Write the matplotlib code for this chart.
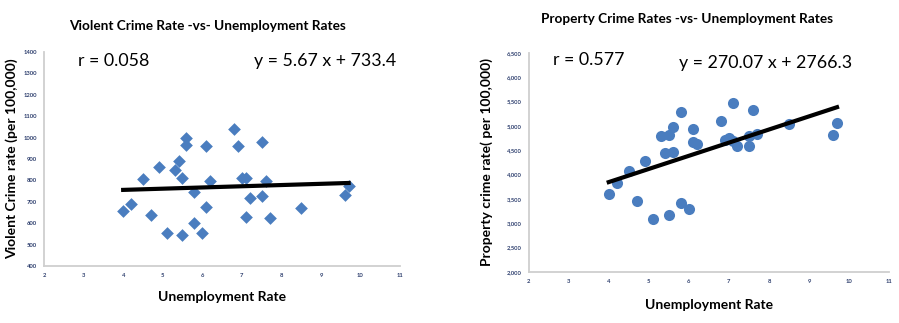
import matplotlib
matplotlib.use("Agg")
import matplotlib.pyplot as plt
from matplotlib.ticker import FuncFormatter

# unemployment rate (same states for both panels)
unemp_v = [4.0, 4.2, 4.5, 4.7, 4.9, 5.1, 5.3, 5.4, 5.5, 5.5, 5.6, 5.6, 5.8, 5.8, 6.0, 6.1,
           6.1, 6.2, 6.8, 6.9, 7.0, 7.1, 7.1, 7.2, 7.5, 7.5, 7.6, 7.7, 8.5, 9.6, 9.7]
violent = [656, 692, 809, 637, 864, 553, 847, 891, 812, 545, 998, 966, 744, 602, 556, 962,
           678, 798, 1042, 961, 812, 812, 630, 716, 978, 727, 797, 627, 670, 730, 775]

unemp_p = [4.0, 4.2, 4.5, 4.7, 4.9, 5.1, 5.3, 5.4, 5.5, 5.5, 5.6, 5.6, 5.8, 5.8, 6.0, 6.1,
           6.1, 6.2, 6.8, 6.9, 7.0, 7.1, 7.1, 7.2, 7.5, 7.5, 7.6, 7.7, 8.5, 9.6, 9.7]
property_ = [3596, 3820, 4065, 3462, 4288, 3082, 4798, 4439, 4808, 3178, 4970, 4470, 5292, 3420,
             3295, 4945, 4671, 4626, 5100, 4712, 4760, 5462, 4690, 4595, 4595, 4787, 5326, 4832,
             5035, 4815, 5068]

# trend lines as printed on the chart
v_slope, v_icpt, v_r = 5.67, 733.4, 0.058
p_slope, p_icpt, p_r = 270.07, 2766.3, 0.577

blue = "#4a7dbf"
tick_col = "#2e3f6e"
spine_col = "#cfcfcf"
font = "Lato"

fig = plt.figure(figsize=(8.99, 3.23), dpi=100)
ax1 = fig.add_axes([0.049, 0.176, 0.396, 0.663])
ax2 = fig.add_axes([0.588, 0.158, 0.401, 0.678])


def style(ax):
    for s in ["top", "right"]:
        ax.spines[s].set_visible(False)
    for s in ["left", "bottom"]:
        ax.spines[s].set_color(spine_col)
        ax.spines[s].set_linewidth(1.3)
    ax.tick_params(length=0, labelsize=4.2, colors=tick_col, pad=5)
    for lab in ax.get_xticklabels() + ax.get_yticklabels():
        lab.set_family(font)
        lab.set_fontweight("bold")


# left: violent crime
ax1.scatter(unemp_v, violent, marker="D", s=42, color=blue, linewidths=0, zorder=2)
xs = [min(unemp_v), max(unemp_v)]
ax1.plot(xs, [v_slope * x + v_icpt for x in xs], color="black", lw=3, zorder=3)
ax1.set_xlim(2, 11)
ax1.set_ylim(400, 1400)
ax1.set_xticks(range(2, 12))
ax1.set_yticks(range(400, 1401, 100))
style(ax1)
ax1.text(0.095, 0.958, "r = %.3f" % v_r, transform=ax1.transAxes, fontsize=12.8,
         family=font, va="center", ha="left")
ax1.text(0.99, 0.958, "y = %.2f x + %.1f" % (v_slope, v_icpt), transform=ax1.transAxes,
         fontsize=12.8, family=font, va="center", ha="right")
ax1.set_xlabel("Unemployment Rate", fontsize=10, fontweight="bold", family=font, labelpad=9)
ax1.set_ylabel("Violent Crime rate (per 100,000)", fontsize=10, fontweight="bold",
               family=font, labelpad=4)
fig.text(0.231, 0.918, "Violent Crime Rate -vs- Unemployment Rates", ha="center",
         va="center", fontsize=9.8, fontweight="bold", family=font)

# right: property crime
ax2.scatter(unemp_p, property_, marker="o", s=64, color=blue, linewidths=0, zorder=2)
xs = [min(unemp_p), max(unemp_p)]
ax2.plot(xs, [p_slope * x + p_icpt for x in xs], color="black", lw=3, zorder=3)
ax2.set_xlim(2, 11)
ax2.set_ylim(2000, 6500)
ax2.set_xticks(range(2, 12))
ax2.set_yticks(range(2000, 6501, 500))
ax2.yaxis.set_major_formatter(FuncFormatter(lambda v, p: "{:,}".format(int(v))))
style(ax2)
ax2.text(0.069, 0.968, "r = %.3f" % p_r, transform=ax2.transAxes, fontsize=12.8,
         family=font, va="center", ha="left")
ax2.text(0.897, 0.956, "y = %.2f x + %.1f" % (p_slope, p_icpt), transform=ax2.transAxes,
         fontsize=12.8, family=font, va="center", ha="right")
ax2.set_xlabel("Unemployment Rate", fontsize=10, fontweight="bold", family=font, labelpad=11)
ax2.set_ylabel("Property crime rate( per 100,000)", fontsize=10, fontweight="bold",
               family=font, labelpad=10)
fig.text(0.764, 0.942, "Property Crime Rates -vs- Unemployment Rates", ha="center",
         va="center", fontsize=9.8, fontweight="bold", family=font)

fig.savefig("out.png", dpi=100)
